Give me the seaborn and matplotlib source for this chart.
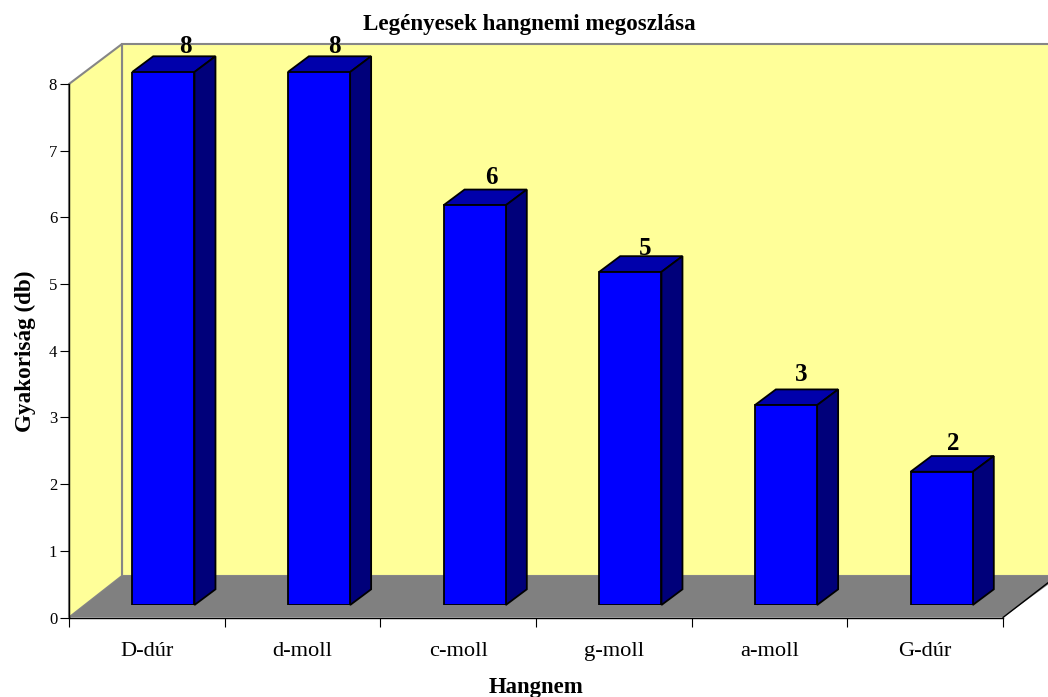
import matplotlib
matplotlib.use("Agg")
import matplotlib.pyplot as plt
from matplotlib.patches import Polygon
import pandas as pd
import seaborn as sns

categories = ["D-dúr", "d-moll", "c-moll", "g-moll", "a-moll", "G-dúr"]
values = [8, 8, 6, 5, 3, 2]
y_ticks = [0, 1, 2, 3, 4, 5, 6, 7, 8]
title = "Legényesek hangnemi megoszlása"
x_label = "Hangnem"
y_label = "Gyakoriság (db)"

W, H = 1048, 697
sns.set_theme(style="white")
plt.rcParams["font.family"] = ["Liberation Serif", "DejaVu Serif"]
fig = plt.figure(figsize=(W / 100, H / 100), dpi=100, facecolor="white")


def axes_px(x0, x1, ytop, ybot):
    return fig.add_axes([x0 / W, 1 - ybot / H, (x1 - x0) / W, (ybot - ytop) / H])


ax = axes_px(69, 1003, 84, 617.5)
ax.set_xlim(-0.5, 5.5)
ax.set_ylim(0, 8)
ax.patch.set_alpha(0)

# 3-D box: walls and floor, in figure pixels
bg = fig.add_axes([0, 0, 1, 1], zorder=-1)
bg.set_xlim(0, W)
bg.set_ylim(H, 0)
bg.axis("off")
wall = "#FFFF99"
edge = "#868686"
bg.add_patch(Polygon([(122, 44), (1060, 44), (1060, 576), (122, 576)], fc=wall, ec=edge, lw=1.5))
bg.add_patch(Polygon([(69, 84), (122, 44), (122, 576), (69, 617.5)], fc=wall, ec=edge, lw=1.5))
bg.add_patch(Polygon([(69, 617.5), (122, 576), (1060, 576), (1003, 617.5)], fc="#808080", ec="none"))
bg.plot([1003, 1060], [617.5, 573.5], color="black", lw=1)

# bars live on their own axes, shifted into the box
bax = axes_px(85.5, 1019.5, 72, 605)
bax.set_xlim(-0.5, 5.5)
bax.set_ylim(0, 8)
bax.axis("off")
df = pd.DataFrame({"Hangnem": categories, "Gyakoriság": values})
sns.barplot(data=df, x="Hangnem", y="Gyakoriság", ax=bax, color="#0000FF", saturation=1,
            width=0.4, edgecolor="black", linewidth=1.3, errorbar=None, zorder=3)
bax.set_xlim(-0.5, 5.5)
bax.set_ylim(0, 8)

dx = 21 * 6 / 934
dy = 15.7 * 8 / 533
nudges = [(12, -1), (5, -1), (6, 1), (4, -3), (5, 4), (1, 2)]
for bar, v, (nx, ny) in zip(bax.patches, values, nudges):
    x0, x1 = bar.get_x(), bar.get_x() + bar.get_width()
    top = bar.get_height()
    bax.add_patch(Polygon([(x0, top), (x0 + dx, top + dy), (x1 + dx, top + dy), (x1, top)],
                          fc="#0000AB", ec="black", lw=1.3, clip_on=False, zorder=2))
    bax.add_patch(Polygon([(x1, 0), (x1 + dx, dy), (x1 + dx, top + dy), (x1, top)],
                          fc="#00007A", ec="black", lw=1.3, clip_on=False, zorder=2))
    bax.annotate(str(v), xy=(x0 + dx / 2 + 0.2, top + dy), xytext=(nx, 11 + ny), textcoords="offset pixels",
                 ha="center", va="center", fontsize=18, fontweight="bold", color="black",
                 annotation_clip=False, zorder=5)

# axes
for s in ("top", "right"):
    ax.spines[s].set_visible(False)
for s in ("left", "bottom"):
    ax.spines[s].set_color("black")
    ax.spines[s].set_linewidth(1)
ax.set_xticks([0.5 + i - 1 for i in range(7)], [""] * 7)
ax.set_xticks(range(len(categories)), categories, minor=True, fontsize=16.1)
ax.tick_params(axis="x", which="major", direction="out", length=6.5, width=0.8, color="black", bottom=True)
ax.tick_params(axis="x", which="minor", length=0, pad=17.5, labelcolor="black")
ax.set_yticks(y_ticks, [str(t) for t in y_ticks], fontsize=12)
ax.tick_params(axis="y", direction="out", length=6.5, width=0.8, color="black", left=True, pad=2, labelcolor="black")

fig.text(529 / W, 1 - 30 / H, title, ha="center", va="baseline", fontsize=16.6, fontweight="bold", color="black")
fig.text(536 / W, 1 - 693 / H, x_label, ha="center", va="baseline", fontsize=16.4, fontweight="bold", color="black")
fig.text(31 / W, 1 - 351 / H, y_label, ha="center", va="baseline", rotation=90, rotation_mode="anchor",
         fontsize=16.7, fontweight="bold", color="black")

fig.savefig("out.png", dpi=100, facecolor="white")
